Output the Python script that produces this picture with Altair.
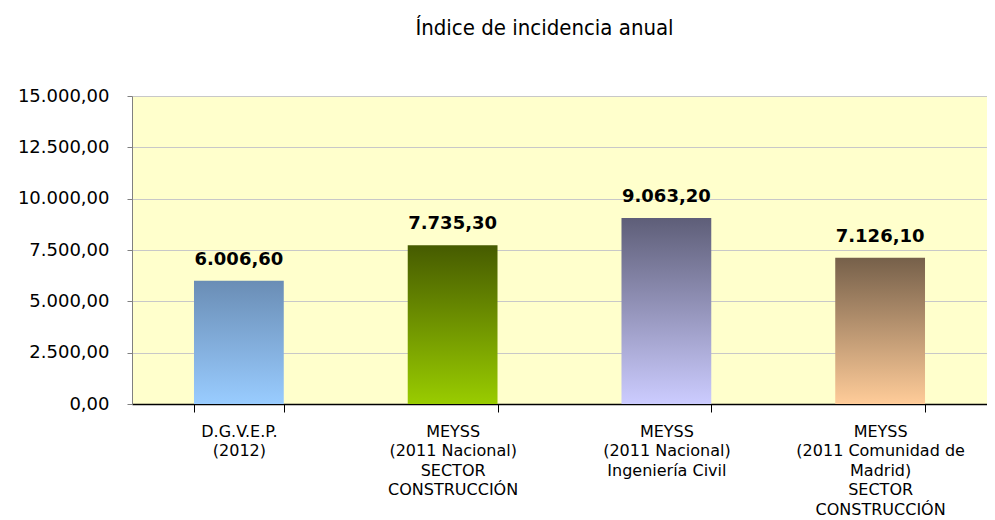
import altair as alt
import pandas as pd

categories = [
    "D.G.V.E.P.|(2012)",
    "MEYSS|(2011 Nacional)|SECTOR|CONSTRUCCIÓN",
    "MEYSS|(2011 Nacional)|Ingeniería Civil",
    "MEYSS|(2011 Comunidad de|Madrid)|SECTOR|CONSTRUCCIÓN",
]
values = [6006.60, 7735.30, 9063.20, 7126.10]
top_colors = ["#6A8DB5", "#465B00", "#5E5E78", "#76604A"]
bottom_colors = ["#99CCFF", "#99CC00", "#CCCCFF", "#FFCC99"]
y_ticks = [0, 2500, 5000, 7500, 10000, 12500, 15000]

df = pd.DataFrame({"cat": categories, "val": values})

x_enc = alt.X(
    "cat:N",
    sort=categories,
    scale=alt.Scale(domain=categories, paddingInner=0.58, paddingOuter=0.29),
    axis=alt.Axis(
        title=None,
        labelAngle=0,
        labelExpr="split(datum.label, '|')",
        labelFont="DejaVu Sans",
        labelFontSize=16,
        labelColor="#000000",
        labelLineHeight=19.5,
        labelPadding=11,
        tickSize=8,
        tickColor="#000000",
        tickBand="extent",
        domainColor="#000000",
        domainWidth=1.5,
        grid=False,
    ),
)
y_enc = alt.Y(
    "val:Q",
    scale=alt.Scale(domain=[0, 15000], nice=False),
    axis=alt.Axis(
        title=None,
        values=y_ticks,
        format=",.2f",
        labelFont="DejaVu Sans",
        labelFontSize=18,
        labelColor="#000000",
        labelPadding=18,
        tickSize=5,
        tickColor="#808080",
        domainColor="#808080",
        gridColor="#C8C8C8",
        gridWidth=1.2,
    ),
)

layers = []
for cat, top, bot in zip(categories, top_colors, bottom_colors):
    layers.append(
        alt.Chart(df)
        .transform_filter(alt.datum.cat == cat)
        .mark_bar(
            color=alt.Gradient(
                gradient="linear",
                x1=0, y1=0, x2=0, y2=1,
                stops=[
                    alt.GradientStop(color=top, offset=0),
                    alt.GradientStop(color=bot, offset=1),
                ],
            )
        )
        .encode(x=x_enc, y=y_enc)
    )

labels = (
    alt.Chart(df)
    .mark_text(font="DejaVu Sans", fontSize=18, fontWeight="bold",
               color="#000000", baseline="alphabetic", dy=-16)
    .encode(x=alt.X("cat:N", sort=categories), y="val:Q",
            text=alt.Text("val:Q", format=",.2f"))
)

chart = (
    alt.layer(*layers, labels)
    .properties(
        width=855,
        height=308,
        autosize="none",
        padding={"left": 124, "top": 88, "right": 0, "bottom": 116},
        title=alt.TitleParams(
            "Índice de incidencia anual",
            font="DejaVu Sans Condensed",
            fontSize=22,
            fontWeight="normal",
            color="#000000",
            anchor="middle",
            dx=-15,
            offset=47,
        ),
    )
    .configure_view(fill="#FFFFCC", stroke=None)
)

chart.save(
    "out.html",
    embed_options={
        "renderer": "svg",
        "actions": False,
        "formatLocale": {
            "decimal": ",",
            "thousands": ".",
            "grouping": [3],
            "currency": ["", " €"],
        },
    },
)
